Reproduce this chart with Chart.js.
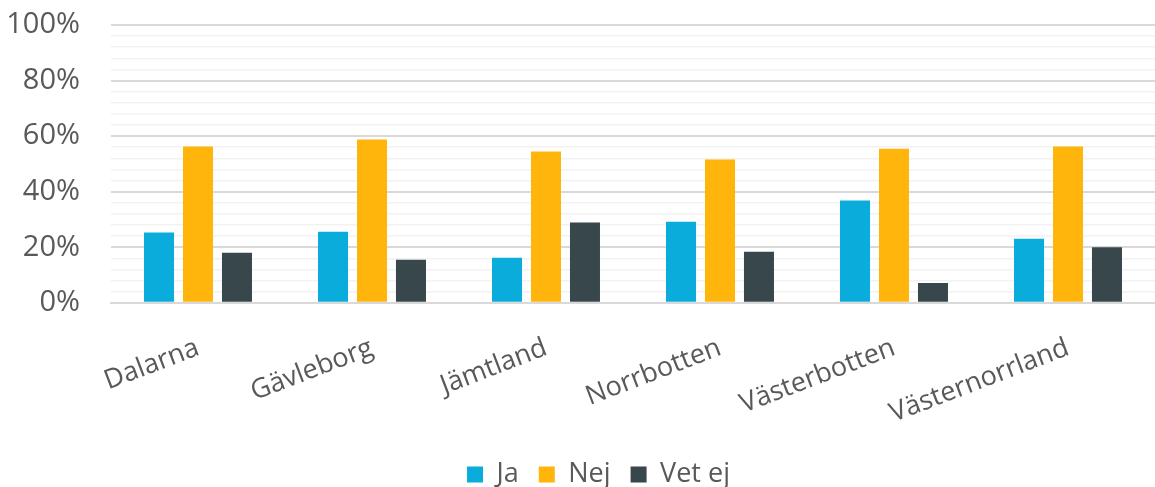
<!DOCTYPE html>
<html>
<head>
<meta charset="utf-8">
<script src="https://cdn.jsdelivr.net/npm/chart.js@4"></script>
<style>
  html, body { margin: 0; padding: 0; background: #fff; }
  #wrap { width: 1155px; height: 487px; }
</style>
</head>
<body>
<div id="wrap"><canvas id="chart"></canvas></div>
<script>
// Data
const categories = ['Dalarna', 'Gävleborg', 'Jämtland', 'Norrbotten', 'Västerbotten', 'Västernorrland'];
const ja = [25.3, 25.6, 16.2, 29.2, 36.8, 23.1];
const nej = [56.3, 58.8, 54.5, 51.6, 55.5, 56.3];
const vetEj = [18.0, 15.5, 28.9, 18.4, 7.1, 20.0];
const yTicks = [0, 20, 40, 60, 80, 100];

const FONT = "'Open Sans', sans-serif";
const TEXT = '#595959';

new Chart(document.getElementById('chart'), {
    type: 'bar',
    data: {
        labels: categories,
        datasets: [
            { label: 'Ja', data: ja, backgroundColor: '#0aacdb' },
            { label: 'Nej', data: nej, backgroundColor: '#ffb50b' },
            { label: 'Vet ej', data: vetEj, backgroundColor: '#37474b' }
        ]
    },
    options: {
        responsive: true,
        maintainAspectRatio: false,
        animation: false,
        datasets: {
            bar: { categoryPercentage: 0.672, barPercentage: 0.77 }
        },
        layout: { padding: { top: 25, right: 0, left: 42, bottom: -11 } },
        plugins: {
            tooltip: { enabled: false },
            legend: {
                position: 'bottom',
                labels: {
                    font: { family: FONT, size: 27 },
                    color: TEXT,
                    boxWidth: 16,
                    boxHeight: 16,
                    padding: 20
                }
            }
        },
        scales: {
            x: {
                grid: { display: false },
                border: { display: true, color: '#d9d9d9', width: 2 },
                ticks: {
                    font: { family: FONT, size: 27 },
                    color: TEXT,
                    minRotation: 21,
                    maxRotation: 21,
                    padding: 21
                },
                // let the rotated labels hang out to the left, trim the axis box height
                afterFit: scale => {
                    scale.paddingLeft = 0;
                    scale.paddingRight = 0;
                    scale.height -= 10;
                }
            },
            y: {
                min: 0,
                max: 100,
                border: { display: false },
                grid: {
                    drawTicks: false,
                    color: ctx => yTicks.includes(Math.round(ctx.tick.value)) ? '#d9d9d9' : '#f2f2f2',
                    lineWidth: ctx => yTicks.includes(Math.round(ctx.tick.value)) ? 2 : 1.5
                },
                ticks: {
                    stepSize: 4,
                    autoSkip: false,
                    font: { family: FONT, size: 29 },
                    color: TEXT,
                    padding: 31,
                    callback: value => yTicks.includes(Math.round(value)) ? Math.round(value) + '%' : ''
                },
                // labels may stick out past the narrow axis box, don't clip them
                beforeUpdate: scale => { scale._computeLabelArea = () => undefined; },
                // fixed axis width so the plot starts where the original does
                afterFit: scale => {
                    scale.paddingTop = 0;
                    scale.paddingBottom = 0;
                    scale.width = 69;
                }
            }
        }
    }
});
</script>
</body>
</html>
